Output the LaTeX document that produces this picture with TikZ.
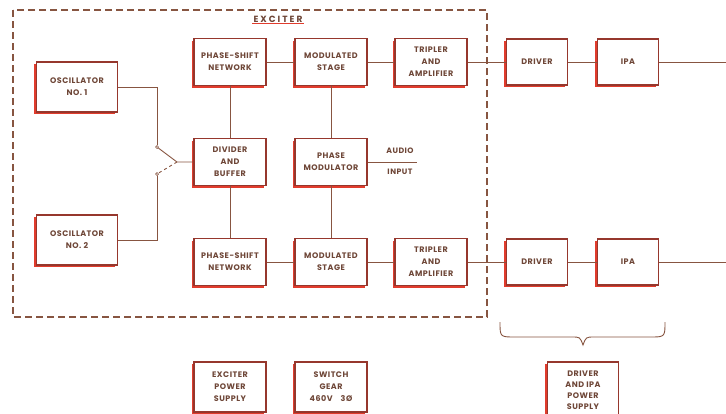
\documentclass[tikz,border=0pt]{standalone}
\usepackage{fontspec}
\setmainfont{Poppins}[LetterSpace=6]
\usetikzlibrary{positioning,shadows}
\definecolor{wire}{RGB}{135,85,65}
\definecolor{frame}{RGB}{150,55,45}
\definecolor{glow}{RGB}{225,60,45}
\definecolor{ink}{RGB}{110,70,55}
\tikzstyle{link} = [draw=wire, line width=0.9pt]
\tikzstyle{every block} = [draw=frame, line width=1.2pt, fill=white, text=ink, align=center, font=\fontsize{8}{12}\selectfont\bfseries, general shadow={fill=glow, shadow xshift=-2.2pt, shadow yshift=-2.2pt}]
\tikzstyle{block} = [rectangle, minimum width=72pt, minimum height=47pt, every block]
\tikzstyle{oscbox} = [block, minimum width=81pt, minimum height=50pt]
\tikzstyle{ampbox} = [block, minimum width=61pt, minimum height=46pt]
\tikzstyle{contact} = [circle, draw=wire, fill=white, line width=0.7pt, inner sep=0pt, minimum size=3pt]
\tikzstyle{tag} = [text=ink, font=\fontsize{7.8}{10}\selectfont\bfseries, inner sep=1pt]

\begin{document}
\begin{tikzpicture} [x=1pt, y=-1pt, node distance=100pt, every edge/.style={link}]
\useasboundingbox (0,0) rectangle (726,413);

% Exciter frame

\draw[wire, line width=1.1pt, dash pattern=on 7pt off 4pt] (13,10) rectangle (487,317);
\node[tag, font=\fontsize{9}{10}\selectfont\bfseries\addfontfeature{LetterSpace=22}] (exciter) at (278,19) {EXCITER};
\draw[glow, line width=0.8pt] (exciter.south west) -- (exciter.south east);

% Oscillators and switch

\node[oscbox] (osc1) at (77,87) {OSCILLATOR\\NO. 1};
\node[oscbox] (osc2) at (77,240) {OSCILLATOR\\NO. 2};

\node[contact] (sw1) at (157,147) {};
\node[contact] (sw2) at (157,174) {};
\coordinate (pivot) at (177,162);

% Upper path

\node[block] (shift1) at (230,62) {PHASE-SHIFT\\NETWORK};

\node[block] (mod1) [right of=shift1, xshift=1pt] {MODULATED\\STAGE} edge (shift1);

\node[block] (trip1) [right of=mod1] {TRIPLER\\AND\\AMPLIFIER} edge (mod1);

\node[ampbox] (driver1) [right of=trip1, xshift=6pt] {DRIVER} edge (trip1);

\node[ampbox] (ipa1) [right of=driver1, xshift=-9pt] {IPA} edge (driver1);

\coordinate (out1) at (726,62);

% Divider and phase modulator

\node[block] (divider) [below of=shift1] {DIVIDER\\AND\\BUFFER} edge (shift1);

\node[block] (phasemod) [below of=mod1] {PHASE\\MODULATOR} edge (mod1);

\node[tag] (audio) at (400,151) {AUDIO};
\node[tag] (input) at (400,172) {INPUT};
\coordinate (audioin) at (417,162);

% Lower path

\node[block] (shift2) [below of=divider] {PHASE-SHIFT\\NETWORK} edge (divider);

\node[block] (mod2) [right of=shift2, xshift=1pt] {MODULATED\\STAGE} edge (shift2) edge (phasemod);

\node[block] (trip2) [right of=mod2] {TRIPLER\\AND\\AMPLIFIER} edge (mod2);

\node[ampbox] (driver2) [right of=trip2, xshift=6pt] {DRIVER} edge (trip2);

\node[ampbox] (ipa2) [right of=driver2, xshift=-9pt] {IPA} edge (driver2);

\coordinate (out2) at (726,262);

% Power supplies

\node[block, minimum height=50pt] (excps) [below of=shift2, yshift=-25pt] {EXCITER\\POWER\\SUPPLY};

\node[block, minimum height=50pt] (switch) [below of=mod2, yshift=-25pt] {SWITCH\\GEAR\\460V\quad 3Ø};

\node[block, font=\fontsize{8}{11}\selectfont\bfseries, minimum width=71pt, minimum height=56pt] (ampps) at (583,390) {DRIVER\\AND IPA\\POWER\\SUPPLY};

% Connectors

\draw[link] (osc1.east) -| (sw1);
\draw[link] (osc2.east) -| (sw2);
\draw[link] (sw1) -- (pivot) -- (divider.west);
\draw[link, dashed] (pivot) -- (sw2);
\draw[link] (phasemod.east) -- (audioin);
\draw[link] (ipa1) -- (out1);
\draw[link] (ipa2) -- (out2);

% Brace

\draw[link] (500,322) .. controls (500,337) .. (515,337) -- (572,337) .. controls (580,337) .. (583,345) .. controls (586,337) .. (594,337) -- (650,337) .. controls (665,337) .. (665,322);

\end{tikzpicture}
\end{document}
